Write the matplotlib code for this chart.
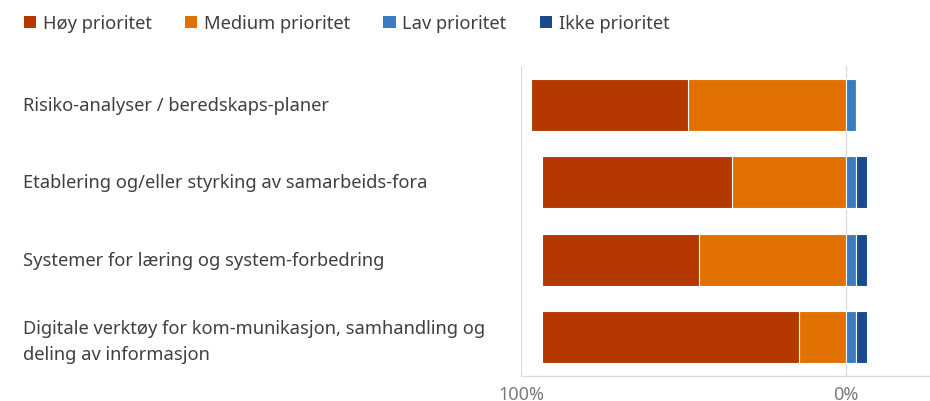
import matplotlib
matplotlib.use("Agg")
import matplotlib.pyplot as plt
import matplotlib.transforms as mtransforms
from matplotlib.patches import Patch

# data (percent of respondents)
categories = [
    "Risiko-analyser / beredskaps-planer",
    "Etablering og/eller styrking av samarbeids-fora",
    "Systemer for læring og system-forbedring",
    "Digitale verktøy for kom-munikasjon, samhandling og\ndeling av informasjon",
]
hoy = [48.4, 58.4, 48.3, 79.0]
medium = [48.5, 35.0, 45.1, 14.4]
lav = [3.1, 3.1, 3.1, 3.1]
ikke = [0.0, 3.4, 3.4, 3.4]

series_names = ["Høy prioritet", "Medium prioritet", "Lav prioritet", "Ikke prioritet"]
colors = ["#b43800", "#e07000", "#3a7cbe", "#194b8c"]
tick_vals = [-100, 0]
tick_labels = ["100%", "0%"]

plt.rcParams["font.family"] = ["Noto Sans", "DejaVu Sans"]
text_col = "#404040"
grid_col = "#dcdcdc"

fig = plt.figure(figsize=(9.3, 4.02), dpi=100)
ax = fig.add_axes([0.5602, 0.0629, 0.4398, 0.7704])

y = list(range(len(categories)))
neg_med = [-v for v in medium]
neg_hoy = [-v for v in hoy]
h = 0.67
ec = dict(edgecolor="white", linewidth=0.8)
ax.barh(y, neg_med, left=0, height=h, color=colors[1], zorder=3, **ec)
ax.barh(y, neg_hoy, left=neg_med, height=h, color=colors[0], zorder=3, **ec)
ax.barh(y, lav, left=0, height=h, color=colors[2], zorder=3, **ec)
ax.barh(y, ikke, left=lav, height=h, color=colors[3], zorder=3, **ec)

ax.set_xlim(-100, 26)
ax.set_ylim(len(categories) - 0.5, -0.5)
ax.set_xticks(tick_vals)
ax.set_xticklabels(tick_labels, color="#7a7a7a", fontsize=13)
ax.set_yticks([])
ax.tick_params(axis="x", length=0, pad=6.5)
for v in tick_vals:
    ax.axvline(v, color=grid_col, linewidth=1, zorder=1)
for s in ["top", "right", "left"]:
    ax.spines[s].set_visible(False)
ax.spines["bottom"].set_color(grid_col)
ax.spines["bottom"].set_linewidth(1)

# category labels, left aligned near the figure edge
trans = mtransforms.blended_transform_factory(fig.transFigure, ax.transData)
for yi, lab in zip(y, categories):
    yy = yi + 0.05 if "\n" in lab else yi
    ax.text(0.0244, yy, lab, transform=trans, ha="left", va="center",
            fontsize=13.2, color=text_col, linespacing=1.62, clip_on=False)

handles = [Patch(facecolor=c, edgecolor="none") for c in colors]
fig.legend(handles, series_names, loc="upper left", bbox_to_anchor=(0.008, 1.003),
           ncol=4, frameon=False, fontsize=13.2, handlelength=0.67,
           handleheight=0.67, handletextpad=0.37, columnspacing=1.8,
           labelcolor=text_col)

fig.savefig("out.png", dpi=100)
